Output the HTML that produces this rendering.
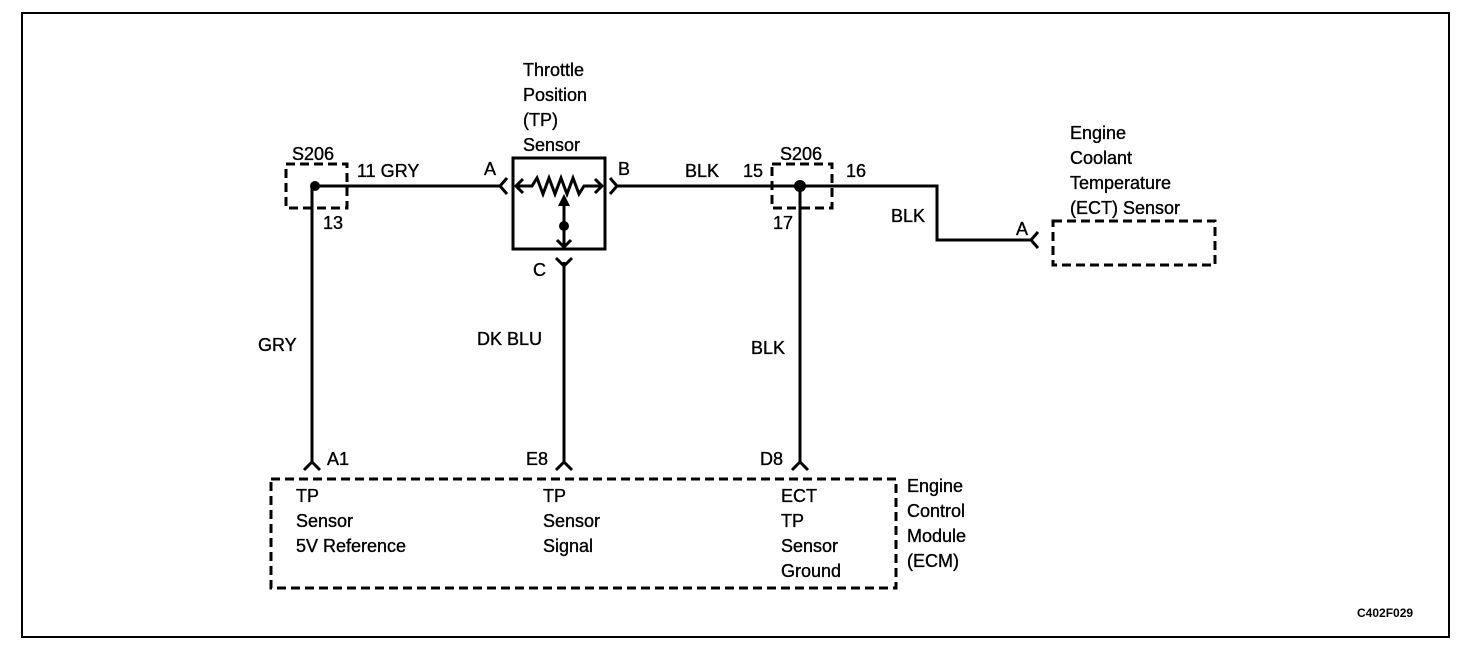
<!DOCTYPE html>
<html><head><style>
body{margin:0;background:#fff}
svg text{font-family:"Liberation Sans",Arial,sans-serif;font-size:18px;fill:#000;stroke:#000;stroke-width:0.35px}
</style></head><body>
<svg width="1472" height="658" viewBox="0 0 1472 658" xmlns="http://www.w3.org/2000/svg">
<rect x="22" y="13" width="1427" height="624" fill="none" stroke="#000" stroke-width="2"/>
<g fill="none" stroke="#000" stroke-width="3" stroke-dasharray="9,5">
<rect x="286" y="164" width="61" height="44"/>
<rect x="772" y="164" width="60" height="44"/>
<rect x="1053" y="221" width="162" height="44"/>
<rect x="271" y="479" width="625" height="109"/>
</g>
<g fill="none" stroke="#000" stroke-width="3">
<path d="M312 186 H500"/>
<path d="M312 186 V462"/>
<path d="M617 186 H937 V240 H1031"/>
<path d="M800 186 V462"/>
<path d="M564 262 V462"/>
<rect x="513" y="158" width="92" height="91"/>
<path d="M507 178 L500 186 L507 194"/>
<path d="M610 178 L617 186 L610 194"/>
<path d="M556 258 L564 266 L572 258"/>
<path d="M1038 232 L1031 240 L1038 248"/>
<path d="M304 470 L312 462 L320 470"/>
<path d="M556 470 L564 462 L572 470"/>
<path d="M792 470 L800 462 L808 470"/>
<path d="M517 186 H532 L537 178 L543 194 L549 178 L555 194 L561 178 L567 194 L573 178 L579 194 L584 186 H601"/>
<path d="M523 179 L516 186 L523 193"/>
<path d="M595 179 L602 186 L595 193"/>
<path d="M564 198 V248"/>
<path d="M557 240 L564 247 L571 240"/>
</g>
<path d="M558 206 L564 194 L570 206 Z" fill="#000"/>
<circle cx="315" cy="186" r="5" fill="#000"/>
<circle cx="800" cy="186" r="6" fill="#000"/>
<circle cx="564" cy="226" r="5" fill="#000"/>
<text x="523" y="76">Throttle</text>
<text x="523" y="101">Position</text>
<text x="523" y="126">(TP)</text>
<text x="523" y="151">Sensor</text>
<text x="292" y="160">S206</text>
<text x="357" y="177">11  GRY</text>
<text x="323" y="229">13</text>
<text x="484" y="175">A</text>
<text x="618" y="175">B</text>
<text x="533" y="276">C</text>
<text x="685" y="177">BLK</text>
<text x="743" y="177">15</text>
<text x="780" y="160">S206</text>
<text x="846" y="177">16</text>
<text x="773" y="229">17</text>
<text x="891" y="222">BLK</text>
<text x="1016" y="235">A</text>
<text x="1070" y="139">Engine</text>
<text x="1070" y="164">Coolant</text>
<text x="1070" y="189">Temperature</text>
<text x="1070" y="214">(ECT) Sensor</text>
<text x="258" y="351">GRY</text>
<text x="477" y="345">DK BLU</text>
<text x="751" y="354">BLK</text>
<text x="327" y="465">A1</text>
<text x="526" y="465">E8</text>
<text x="760" y="465">D8</text>
<text x="296" y="502">TP</text>
<text x="296" y="527">Sensor</text>
<text x="296" y="552">5V Reference</text>
<text x="543" y="502">TP</text>
<text x="543" y="527">Sensor</text>
<text x="543" y="552">Signal</text>
<text x="781" y="502">ECT</text>
<text x="781" y="527">TP</text>
<text x="781" y="552">Sensor</text>
<text x="781" y="577">Ground</text>
<text x="907" y="492">Engine</text>
<text x="907" y="517">Control</text>
<text x="907" y="542">Module</text>
<text x="907" y="567">(ECM)</text>
<text x="1357" y="617" style="font-size:12px;font-weight:bold;stroke-width:0">C402F029</text>
</svg>
</body></html>
